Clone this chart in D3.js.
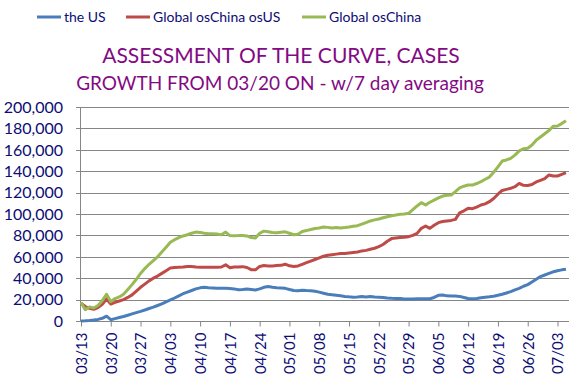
<!DOCTYPE html>
<html>
<head>
<meta charset="utf-8">
<script src="https://cdn.jsdelivr.net/npm/d3@7"></script>
<style>
  body { margin: 0; background: #fff; }
  svg { display: block; }
  text { font-family: Lato, "Open Sans", sans-serif; }
</style>
</head>
<body>
<script>
var width = 580, height = 389;

// categories: one point per day starting 03/13
const firstDay = "2020-03-13";
const tickLabels = ["03/13","03/20","03/27","04/03","04/10","04/17","04/24","05/01",
    "05/08","05/15","05/22","05/29","06/05","06/12","06/19","06/26","07/03"];
const yTicks = [0,20000,40000,60000,80000,100000,120000,140000,160000,180000,200000];
const seriesNames = ["the US", "Global osChina osUS", "Global osChina"];
const seriesColors = ["#4a7ebb", "#be4b48", "#98b954"];

const usCases = [0,200,500,900,1500,2500,4500,1200,2200,3200,4200,5400,6600,7800,9000,
    10300,11700,13000,14500,16000,17800,19700,21500,23500,25500,27000,28500,30000,31000,
    31500,31000,30800,30500,30500,30500,30300,30000,29200,29500,30000,29500,29000,30000,
    31500,32200,31500,31000,30800,30500,29500,28500,28200,28800,28500,28300,27800,27000,
    26000,25000,24500,24000,23500,23000,22600,22300,22500,23000,22500,23000,22500,22300,
    22000,21500,21200,21000,21000,20500,20500,20500,20800,20800,20800,20800,22000,24000,
    24300,23500,23300,23300,23000,22000,21000,20800,21000,21800,22200,22600,23100,24000,
    25000,26200,27400,29000,30500,32500,34000,36500,39000,41500,43000,44500,46000,47000,
    47800,48300];

const exChinaExUS = [16600,13500,11900,11000,12500,15500,20600,15900,17500,18700,20000,
    22000,24400,28000,31500,34500,37500,40000,42000,44500,47000,49500,50000,50300,50500,
    51000,51000,50500,50300,50300,50300,50300,50300,50500,52500,49800,50500,50500,50800,
    50000,48000,47800,51000,51900,51500,51500,51800,52000,53100,51600,51000,51500,53000,
    54500,56000,57500,59000,60500,61500,62000,62500,63000,63000,63500,64000,64500,65500,
    66000,67000,68000,69500,71500,74500,77000,77500,78000,78300,78800,80000,81900,86600,
    88800,86600,89500,91900,93000,93500,94000,95000,101000,103000,105300,105000,106500,
    108400,109500,111500,114500,118500,122000,123000,124000,125500,128600,126800,126700,
    127500,130000,131500,133000,136500,135500,135500,137000,138600];

const exChina = [17200,10500,13200,12200,14500,19000,25000,18100,21000,22500,25000,29500,
    34000,39000,44500,49000,53000,56500,60000,64500,69000,73500,76000,78000,79500,80600,
    82000,83100,82800,82000,81600,81500,81300,80500,83100,79800,79700,79800,80000,79500,
    78000,77500,82000,84000,83500,82800,82500,83000,83300,82000,80600,81000,83700,84500,
    85500,86500,87000,87800,87500,87000,87300,87000,87300,87800,88500,89100,90500,92000,
    93500,94500,95300,96500,97500,98400,99000,99700,100000,100600,104000,107500,110600,
    108400,111000,113000,115000,116800,117500,117700,121000,124500,126000,127100,127000,
    128500,130200,132500,134500,139000,144000,149500,150500,152000,155000,159000,161000,
    161500,164500,169000,172000,175000,178000,182000,182200,184500,187200];

const parseDay = d3.timeParse("%Y-%m-%d");
const start = parseDay(firstDay);
const days = d3.range(usCases.length).map(i => d3.timeDay.offset(start, i));
const tickDays = tickLabels.map((t, i) => d3.timeDay.offset(start, i * 7));

const plotLeft = 81, plotRight = 569, plotTop = 107, plotBottom = 321;

let svg = d3.select("body").append("svg")
    .attr("width", width).attr("height", height);

const x = d3.scaleTime()
    .domain([days[0], days[days.length - 1]])
    .range([plotLeft, 566]);

const y = d3.scaleLinear()
    .domain([0, 200000])
    .range([plotBottom, plotTop]);

// gridlines
svg.append("g").selectAll("line")
    .data(yTicks)
    .enter().append("line")
    .attr("x1", plotLeft - 5).attr("x2", plotRight)
    .attr("y1", d => Math.round(y(d)) + 0.5).attr("y2", d => Math.round(y(d)) + 0.5)
    .attr("stroke", "#868686").attr("stroke-width", 1);

// y labels
svg.append("g").selectAll("text")
    .data(yTicks)
    .enter().append("text")
    .attr("x", 63).attr("y", d => y(d))
    .attr("dy", "0.36em")
    .attr("text-anchor", "end")
    .attr("font-size", 16)
    .attr("fill", "#0c0c74")
    .text(d => d3.format(",")(d));

// y axis line
svg.append("line")
    .attr("x1", plotLeft - 0.5).attr("x2", plotLeft - 0.5)
    .attr("y1", plotTop).attr("y2", plotBottom)
    .attr("stroke", "#868686");

// x axis
let gx = svg.append("g")
    .attr("transform", `translate(0,${Math.round(plotBottom) + 0.5})`)
    .call(d3.axisBottom(x)
        .tickValues(tickDays)
        .tickSize(5)
        .tickSizeOuter(0)
        .tickFormat((d, i) => tickLabels[i]));

gx.select(".domain")
    .attr("d", `M${plotLeft - 0.5},0H${plotRight}`)
    .attr("stroke", "#868686");
gx.selectAll(".tick line").attr("stroke", "#868686");
gx.selectAll(".tick text")
    .attr("font-family", "Lato, 'Open Sans', sans-serif")
    .attr("font-size", 15)
    .attr("fill", "#0c0c74")
    .attr("text-anchor", "end")
    .attr("transform", "rotate(-90)")
    .attr("x", -11)
    .attr("y", 0)
    .attr("dy", "0.36em");

// lines
const allSeries = [usCases, exChinaExUS, exChina];
const line = d3.line()
    .x((d, i) => x(days[i]))
    .y(d => y(d));

svg.append("g").selectAll("path")
    .data(allSeries)
    .enter().append("path")
    .attr("d", line)
    .attr("fill", "none")
    .attr("stroke", (d, i) => seriesColors[i])
    .attr("stroke-width", 3)
    .attr("stroke-linejoin", "round");

// legend
const legendX = [37, 126, 302];
let legend = svg.append("g").selectAll("g")
    .data(seriesNames)
    .enter().append("g")
    .attr("transform", (d, i) => `translate(${legendX[i]},17)`);

legend.append("line")
    .attr("x1", 0).attr("x2", 24)
    .attr("stroke", (d, i) => seriesColors[i])
    .attr("stroke-width", 3);

legend.append("text")
    .attr("x", 27).attr("dy", "0.35em")
    .attr("font-size", 14)
    .attr("fill", "#0c0c74")
    .text(d => d);

// titles
svg.append("text")
    .attr("x", 281).attr("y", 63)
    .attr("text-anchor", "middle")
    .attr("font-size", 21)
    .attr("fill", "#830a83")
    .text("ASSESSMENT OF THE CURVE, CASES");

svg.append("text")
    .attr("x", 280).attr("y", 90)
    .attr("text-anchor", "middle")
    .attr("font-size", 19)
    .attr("fill", "#830a83")
    .text("GROWTH FROM 03/20 ON - w/7 day averaging");
</script>
</body>
</html>
